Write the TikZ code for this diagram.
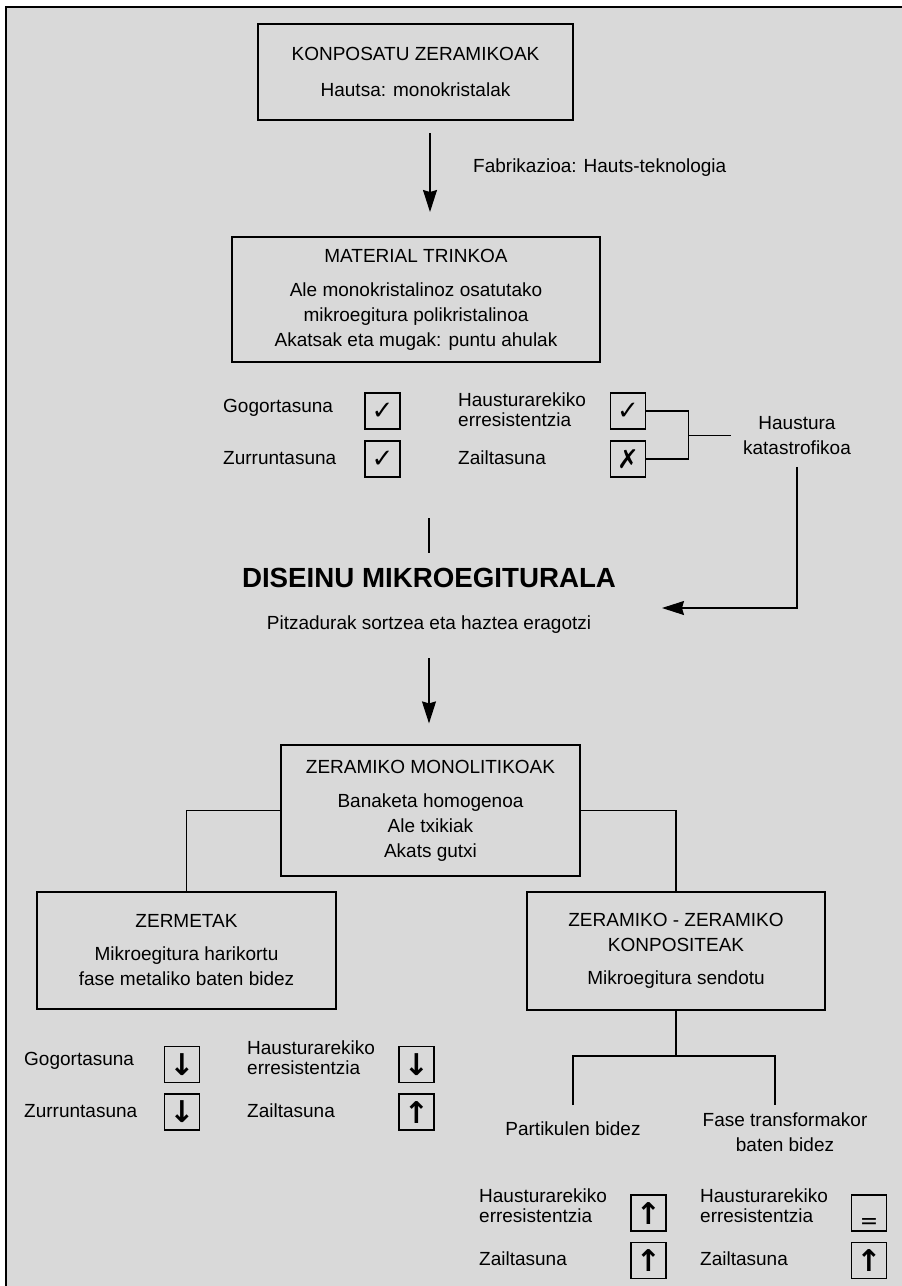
\documentclass[tikz,border=0pt]{standalone}
\usepackage{fontspec}
\setmainfont{Liberation Sans}
\newfontfamily\symfont{DejaVu Sans}
\usetikzlibrary{arrows.meta}
\definecolor{bggray}{HTML}{D9D9D9}
\newcommand{\boxfont}{\fontsize{19}{25}\selectfont}
\newcommand{\twofont}{\fontsize{19}{20}\selectfont}
\newcommand{\arrowfont}{\bfseries\fontsize{30}{30}\selectfont}
\tikzstyle{boxes} = [rectangle, draw=black, line width=1.2pt, align=center, inner sep=0pt, font=\boxfont]
\tikzstyle{markbox} = [rectangle, draw=black, line width=1.2pt, minimum width=35pt, minimum height=36pt, inner sep=0pt, font=\symfont\fontsize{26}{26}\selectfont]
\tikzstyle{lbl} = [anchor=west, inner sep=0pt, font=\boxfont, align=left]
\tikzstyle{lbltwo} = [anchor=west, inner sep=0pt, font=\twofont, align=left]
\tikzstyle{line} = [line width=1.2pt]
\tikzstyle{arrow} = [line width=1.2pt, -{Stealth[length=22pt, width=14pt, inset=2pt]}]

\begin{document}
\begin{tikzpicture}[x=1pt, y=-1pt]
        \useasboundingbox (0,0) rectangle (902,1286);
        \fill[bggray] (6,7) rectangle (902,1286);
        \draw[line width=1.5pt] (6,1286) -- (6,7) -- (902,7);

        % Boxes
        \node[boxes, minimum width=315pt, minimum height=96pt] (konp) at (415.5,72) {KONPOSATU ZERAMIKOAK\\[11pt]Hautsa: monokristalak};
        \node[boxes, minimum width=368pt, minimum height=125pt] (trinko) at (416,299.5) {MATERIAL TRINKOA\\[9pt]Ale monokristalinoz osatutako\\mikroegitura polikristalinoa\\Akatsak eta mugak: puntu ahulak};
        \node[boxes, minimum width=299pt, minimum height=131pt] (mono) at (430.5,810.5) {ZERAMIKO MONOLITIKOAK\\[9pt]Banaketa homogenoa\\Ale txikiak\\Akats gutxi};
        \node[boxes, minimum width=299pt, minimum height=117pt] (zerm) at (186.5,950.5) {ZERMETAK\\[8pt]Mikroegitura harikortu\\fase metaliko baten bidez};
        \node[boxes, minimum width=298pt, minimum height=118pt] (konpos) at (676,951) {ZERAMIKO - ZERAMIKO\\KONPOSITEAK\\[8pt]Mikroegitura sendotu};

        % Text Labels
        \node[lbl] (fab) at (473,168) {Fabrikazioa: Hauts-teknologia};
        \node[font=\bfseries\fontsize{27.7}{30}\selectfont, inner sep=0pt] (dis) at (429,578) {DISEINU MIKROEGITURALA};
        \node[font=\boxfont, inner sep=0pt] (pitz) at (429,625) {Pitzadurak sortzea eta haztea eragotzi};
        \node[font=\boxfont, inner sep=0pt, align=center] (haust) at (797,435.5) {Haustura\\katastrofikoa};
        \node[font=\boxfont, inner sep=0pt] (partik) at (573,1129) {Partikulen bidez};
        \node[font=\boxfont, inner sep=0pt, align=center, anchor=north] (fasetr) at (785,1113) {Fase transformakor\\baten bidez};

        % Material trinkoa properties
        \node[lbl] (gog1) at (223,408) {Gogortasuna};
        \node[lbl] (zur1) at (223,458) {Zurruntasuna};
        \node[lbltwo] (hre1) at (458,409.5) {Hausturarekiko\\erresistentzia};
        \node[lbl] (zail1) at (458,458) {Zailtasuna};
        \node[markbox] (cA) at (382.5,411) {✓};
        \node[markbox] (cB) at (382.5,459) {✓};
        \node[markbox] (cC) at (628,411) {✓};
        \node[markbox] (cD) at (628,459) {✗};

        % Zermetak properties
        \node[lbl] (gog2) at (24,1061) {Gogortasuna};
        \node[lbl] (zur2) at (24,1111) {Zurruntasuna};
        \node[lbltwo] (hre2) at (247,1057.5) {Hausturarekiko\\erresistentzia};
        \node[lbl] (zail2) at (247,1111) {Zailtasuna};
        \node[markbox] (zA) at (182,1064.5) {\arrowfont ↓};
        \node[markbox] (zB) at (182,1112) {\arrowfont ↓};
        \node[markbox] (zC) at (416.5,1064.5) {\arrowfont ↓};
        \node[markbox] (zD) at (416.5,1112) {\arrowfont ↑};

        % Konpositeak properties
        \node[lbltwo] (hre3) at (479,1206) {Hausturarekiko\\erresistentzia};
        \node[lbl] (zail3) at (479,1259) {Zailtasuna};
        \node[lbltwo] (hre4) at (700,1206) {Hausturarekiko\\erresistentzia};
        \node[lbl] (zail4) at (700,1259) {Zailtasuna};
        \node[markbox] (pA) at (648.5,1213) {\arrowfont ↑};
        \node[markbox] (pB) at (648.5,1260.5) {\arrowfont ↑};
        \node[markbox] (fA) at (869,1213) {\raisebox{-15pt}[0pt][0pt]{\fontsize{22}{22}\selectfont =}};
        \node[markbox] (fB) at (869,1260.5) {\arrowfont ↑};

        \coordinate (a1s) at (430,133);
        \coordinate (a1e) at (430,212);
        \coordinate (dtip) at (662,608);
        \coordinate (vtop) at (429,518);
        \coordinate (vbot) at (429,553);
        \coordinate (split) at (676,1056);
        \coordinate (plend) at (573,1105);
        \coordinate (flend) at (775,1105);

        % Arrows
        \draw[arrow] (a1s) -- (a1e);
        \draw[arrow, shorten >=21pt] ([yshift=-24pt]pitz.south) -- (pitz.south |- mono.north);
        \draw[arrow] (haust.south) ++(0,12) |- (dtip);

        % Lines
        \draw[line] (cC.east) -- ++(42,0) coordinate (brtop) |- (cD.east);
        \draw[line] (brtop |- haust) -- ([xshift=-12pt]haust.west);
        \draw[line] (vtop) -- (vbot);
        \draw[line] (mono.west) -| (zerm.north);
        \draw[line] (mono.east) -| (konpos.north);
        \draw[line] (konpos.south) -- (split);
        \draw[line] (plend) |- (split) -| (flend);

\end{tikzpicture}
\end{document}
